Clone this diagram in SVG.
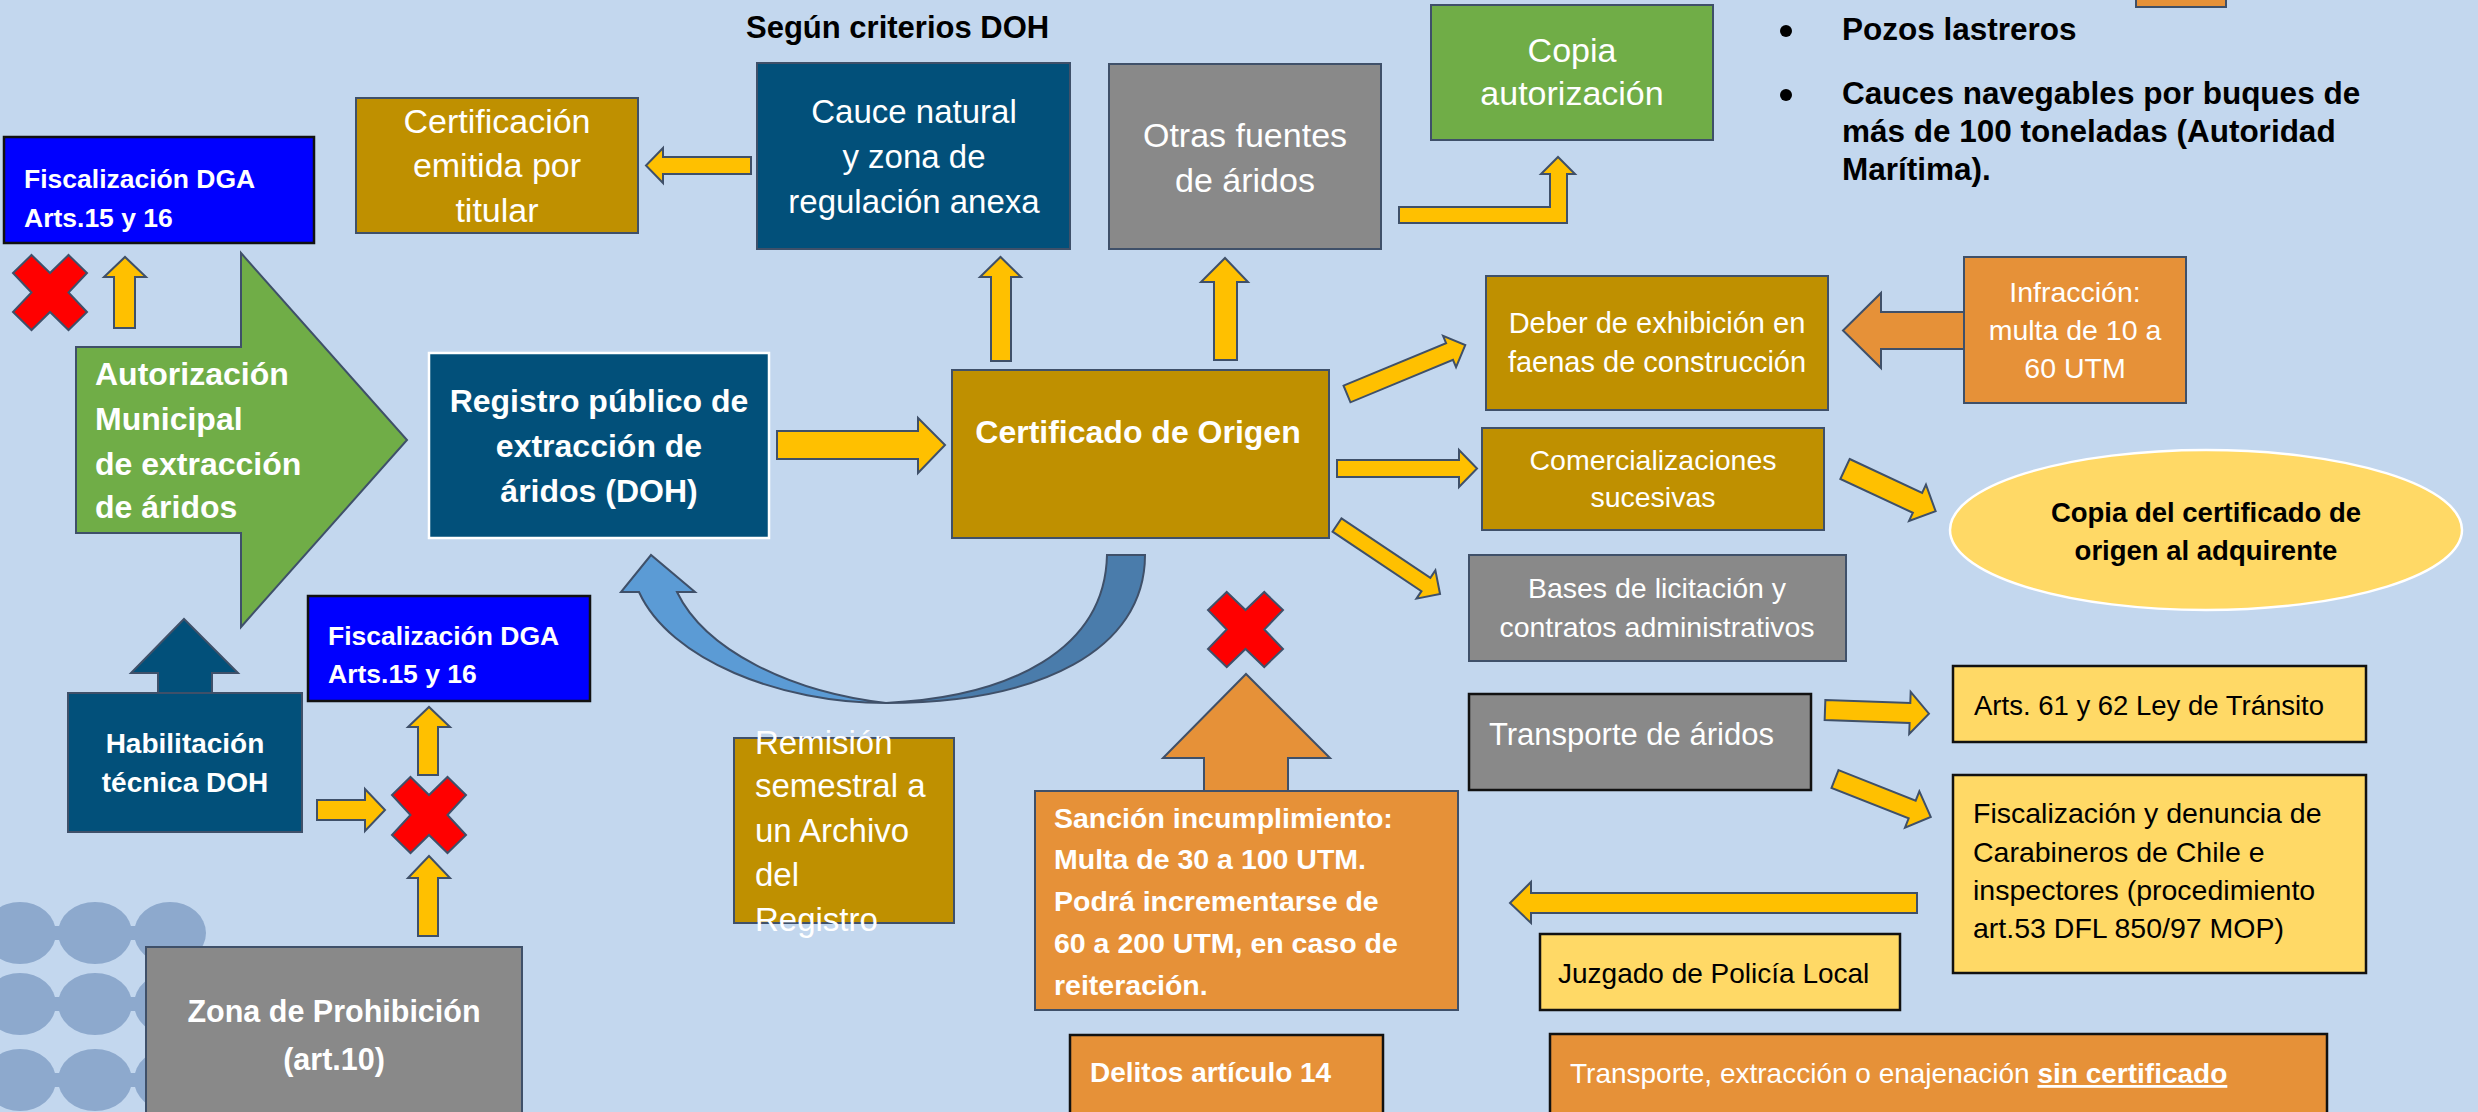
<svg xmlns="http://www.w3.org/2000/svg" width="2478" height="1112" viewBox="0 0 2478 1112">
<defs>
<style>
text{font-family:'Liberation Sans',Arial,sans-serif}
.w{fill:#fff}
.k{fill:#000}
.b{font-weight:bold}
.mid{text-anchor:middle}
.box{stroke:#3F5069;stroke-width:2}
.kbox{stroke:#111;stroke-width:2.5}
.teal{fill:#02507A}
.gold{fill:#BF9000}
.grey{fill:#898989}
.green{fill:#70AD47}
.orange{fill:#E69138}
.pale{fill:#FFD966}
.blue{fill:#0000FF}
.arr{fill:#FFC000;stroke:#3F5069;stroke-width:2}
.oarr{fill:#E69138;stroke:#3F5069;stroke-width:2}
.x{fill:#FF0000;stroke:#3F5069;stroke-width:2}
.blob{fill:#8DA9CD}
</style>
<g id="beads">
<ellipse cx="20" cy="0" rx="36" ry="31"/><ellipse cx="95" cy="0" rx="37" ry="31"/><ellipse cx="170" cy="0" rx="36" ry="31"/>
<rect x="20" y="-7" width="150" height="14"/>
</g>
</defs>
<rect width="2478" height="1112" fill="#C3D7EE"/>

<g id="decor" class="blob">
<use href="#beads" transform="translate(0,933)"/>
<use href="#beads" transform="translate(0,1004)"/>
<use href="#beads" transform="translate(0,1080)"/>
</g>

<g id="connectors">
<polygon class="arr" points="114,328 114,277 104,277 125,257 146,277 135,277 135,328"/>
<polygon class="arr" points="751,157 663,157 663,148 646,165.5 663,183 663,174 751,174"/>
<polygon class="arr" points="777,431 918,431 918,418 945,445 918,473 918,459 777,459"/>
<polygon class="arr" points="991,361 991,277 980,277 1000.5,257 1021,277 1011,277 1011,361"/>
<polygon class="arr" points="1214,360 1214,282 1201,282 1225,258 1248,282 1237,282 1237,360"/>
<polygon class="arr" points="1399,207 1550,207 1550,174 1541,174 1558,157 1575,174 1567,174 1567,223 1399,223"/>
<polygon class="arr" transform="translate(1347,394) rotate(-22.5)" points="0,-9 111,-9 111,-17 128,0 111,17 111,9 0,9"/>
<polygon class="arr" points="1337,460 1459,460 1459,450 1477,468.5 1459,487 1459,477 1337,477"/>
<polygon class="arr" transform="translate(1337,525) rotate(33.8)" points="0,-8 107,-8 107,-17 124,0 107,17 107,8 0,8"/>
<polygon class="arr" transform="translate(1845,469) rotate(25)" points="0,-11 80,-11 80,-20 100,0 80,20 80,11 0,11"/>
<polygon class="arr" transform="translate(1825,710) rotate(2)" points="0,-10 85,-10 85,-21 104,0 85,21 85,10 0,10"/>
<polygon class="arr" transform="translate(1835,779) rotate(21.6)" points="0,-9.5 83,-9.5 83,-19.5 103,0 83,19.5 83,9.5 0,9.5"/>
<polygon class="arr" points="1917,893 1531,893 1531,882 1510,903 1531,923 1531,913 1917,913"/>
<polygon class="arr" points="317,800 365,800 365,789 385,810 365,831 365,820 317,820"/>
<polygon class="arr" points="418,775 418,727 408,727 429,707 450,727 438,727 438,775"/>
<polygon class="arr" points="418,936 418,878 408,878 429,856 450,878 438,878 438,936"/>
<polygon class="oarr" points="1964,312 1881,312 1881,293 1843,330.5 1881,368 1881,349 1964,349"/>
<polygon class="oarr" points="1204,792 1204,758 1163,758 1246,674 1330,758 1288,758 1288,792"/>
<polygon fill="#02507A" stroke="#3F5069" stroke-width="2" points="158,694 158,673 131,673 184,619 238,673 212,673 212,694"/>
<path fill="#4A7CAB" stroke="#3F5069" stroke-width="2" d="M1145,555 C1145,650 1040,703 886,703 C1010,697 1105,650 1107,555 Z"/>
<path fill="#5B9BD5" stroke="#3F5069" stroke-width="2" d="M886,703 C780,703 670,660 639,592 L621,592 L651,555 L695,592 L677,592 C705,650 790,692 886,703 Z"/>
<polygon class="x" points="31.5,255 50,273 68.5,255 87,273 68.5,292.5 87,312 68.5,330 50,312 31.5,330 13,312 31.5,292.5 13,273"/>
<polygon class="x" points="410.5,777 429,795 447.5,777 466,795 447.5,815 466,835 447.5,853 429,835 410.5,853 392,835 410.5,815 392,795"/>
<polygon class="x" points="1226.75,592 1245.5,610 1264.25,592 1283,610 1264.25,629.5 1283,649 1264.25,667 1245.5,649 1226.75,667 1208,649 1226.75,629.5 1208,610"/>
</g>

<g id="titulo">
<text x="746" y="38" class="k b" font-size="31">Según criterios DOH</text>
</g>

<g id="bullets">
<circle cx="1786" cy="31" r="6" fill="#000"/>
<text x="1842" y="40" class="k b" font-size="31.5">Pozos lastreros</text>
<circle cx="1786" cy="95" r="6" fill="#000"/>
<text class="k b" font-size="31.5"><tspan x="1842" y="104">Cauces navegables por buques de</tspan><tspan x="1842" y="142">más de 100 toneladas (Autoridad</tspan><tspan x="1842" y="180">Marítima).</tspan></text>
</g>

<g id="fisc-dga-1">
<rect x="4" y="137" width="310" height="106" class="blue kbox"/>
<text class="w b" font-size="26.5"><tspan x="24" y="188">Fiscalización DGA</tspan><tspan x="24" y="227">Arts.15 y 16</tspan></text>
</g>

<g id="certificacion-titular">
<rect x="356" y="98" width="282" height="135" class="gold box"/>
<text class="w mid" font-size="34"><tspan x="497" y="133">Certificación</tspan><tspan x="497" y="177">emitida por</tspan><tspan x="497" y="222">titular</tspan></text>
</g>

<g id="cauce-natural">
<rect x="757" y="63" width="313" height="186" class="teal box"/>
<text class="w mid" font-size="33"><tspan x="914" y="123">Cauce natural</tspan><tspan x="914" y="168">y zona de</tspan><tspan x="914" y="213">regulación anexa</tspan></text>
</g>

<g id="otras-fuentes">
<rect x="1109" y="64" width="272" height="185" class="grey box"/>
<text class="w mid" font-size="34"><tspan x="1245" y="147">Otras fuentes</tspan><tspan x="1245" y="192">de áridos</tspan></text>
</g>

<g id="copia-autorizacion">
<rect x="1431" y="5" width="282" height="135" class="green box"/>
<text class="w mid" font-size="34"><tspan x="1572" y="62">Copia</tspan><tspan x="1572" y="105">autorización</tspan></text>
</g>

<g id="orange-top">
<rect x="2136" y="-3" width="90" height="10" class="orange box"/>
</g>

<g id="autorizacion-municipal">
<polygon points="76,347 241,347 241,253 407,440 241,627 241,533 76,533" class="green box"/>
<text class="w b" font-size="32"><tspan x="95" y="385">Autorización</tspan><tspan x="95" y="430">Municipal</tspan><tspan x="95" y="475">de extracción</tspan><tspan x="95" y="518">de áridos</tspan></text>
</g>

<g id="registro-publico">
<rect x="429" y="353" width="340" height="185" class="teal" stroke="#fff" stroke-width="2.5"/>
<text class="w b mid" font-size="32"><tspan x="599" y="412">Registro público de</tspan><tspan x="599" y="457">extracción de</tspan><tspan x="599" y="502">áridos (DOH)</tspan></text>
</g>

<g id="certificado-origen">
<rect x="952" y="370" width="377" height="168" class="gold box"/>
<text x="1138" y="443" class="w b mid" font-size="32">Certificado de Origen</text>
</g>

<g id="deber-exhibicion">
<rect x="1486" y="276" width="342" height="134" class="gold box"/>
<text class="w mid" font-size="29"><tspan x="1657" y="333">Deber de exhibición en</tspan><tspan x="1657" y="372">faenas de construcción</tspan></text>
</g>

<g id="infraccion">
<rect x="1964" y="257" width="222" height="146" class="orange box"/>
<text class="w mid" font-size="28.5"><tspan x="2075" y="302">Infracción:</tspan><tspan x="2075" y="340">multa de 10 a</tspan><tspan x="2075" y="378">60 UTM</tspan></text>
</g>

<g id="comercializaciones">
<rect x="1482" y="428" width="342" height="102" class="gold box"/>
<text class="w mid" font-size="28.5"><tspan x="1653" y="470">Comercializaciones</tspan><tspan x="1653" y="507">sucesivas</tspan></text>
</g>

<g id="bases-licitacion">
<rect x="1469" y="555" width="377" height="106" class="grey box"/>
<text class="w mid" font-size="28.5"><tspan x="1657" y="598">Bases de licitación y</tspan><tspan x="1657" y="637">contratos administrativos</tspan></text>
</g>

<g id="copia-certificado">
<ellipse cx="2206" cy="530" rx="256" ry="80" class="pale" stroke="#fff" stroke-width="2.5"/>
<text class="k b mid" font-size="27.5"><tspan x="2206" y="522">Copia del certificado de</tspan><tspan x="2206" y="560">origen al adquirente</tspan></text>
</g>

<g id="transporte-aridos">
<rect x="1469" y="694" width="342" height="96" class="grey kbox"/>
<text x="1489" y="745" class="w" font-size="31">Transporte de áridos</text>
</g>

<g id="ley-transito">
<rect x="1953" y="666" width="413" height="76" class="pale kbox"/>
<text x="1974" y="715" class="k" font-size="27.5">Arts. 61 y 62 Ley de Tránsito</text>
</g>

<g id="fiscalizacion-carabineros">
<rect x="1953" y="775" width="413" height="198" class="pale kbox"/>
<text class="k" font-size="28.5"><tspan x="1973" y="823">Fiscalización y denuncia de</tspan><tspan x="1973" y="862">Carabineros de Chile e</tspan><tspan x="1973" y="900">inspectores (procedimiento</tspan><tspan x="1973" y="938">art.53 DFL 850/97 MOP)</tspan></text>
</g>

<g id="juzgado">
<rect x="1540" y="934" width="360" height="76" class="pale kbox"/>
<text x="1558" y="983" class="k" font-size="28">Juzgado de Policía Local</text>
</g>

<g id="sin-certificado">
<rect x="1550" y="1034" width="777" height="90" class="orange kbox"/>
<text x="1570" y="1083" class="w" font-size="28">Transporte, extracción o enajenación <tspan class="b" text-decoration="underline">sin certificado</tspan></text>
</g>

<g id="sancion">
<rect x="1035" y="791" width="423" height="219" class="orange box"/>
<text class="w b" font-size="28.5"><tspan x="1054" y="828">Sanción incumplimiento:</tspan><tspan x="1054" y="869">Multa de 30 a 100 UTM.</tspan><tspan x="1054" y="911">Podrá incrementarse de</tspan><tspan x="1054" y="953">60 a 200 UTM, en caso de</tspan><tspan x="1054" y="995">reiteración.</tspan></text>
</g>

<g id="delitos">
<rect x="1070" y="1035" width="313" height="90" class="orange kbox"/>
<text x="1090" y="1082" class="w b" font-size="28">Delitos artículo 14</text>
</g>

<g id="remision">
<rect x="734" y="738" width="220" height="185" class="gold box"/>
<text class="w" font-size="33"><tspan x="755" y="754">Remisión</tspan><tspan x="755" y="797">semestral a</tspan><tspan x="755" y="842">un Archivo</tspan><tspan x="755" y="886">del</tspan><tspan x="755" y="931">Registro</tspan></text>
</g>

<g id="habilitacion">
<rect x="68" y="693" width="234" height="139" class="teal box"/>
<text class="w b mid" font-size="28"><tspan x="185" y="753">Habilitación</tspan><tspan x="185" y="792">técnica DOH</tspan></text>
</g>

<g id="fisc-dga-2">
<rect x="308" y="596" width="282" height="105" class="blue kbox"/>
<text class="w b" font-size="26.5"><tspan x="328" y="645">Fiscalización DGA</tspan><tspan x="328" y="683">Arts.15 y 16</tspan></text>
</g>

<g id="zona-prohibicion">
<rect x="146" y="947" width="376" height="180" class="grey box"/>
<text class="w b mid" font-size="30.5"><tspan x="334" y="1022">Zona de Prohibición</tspan><tspan x="334" y="1070">(art.10)</tspan></text>
</g>
</svg>
